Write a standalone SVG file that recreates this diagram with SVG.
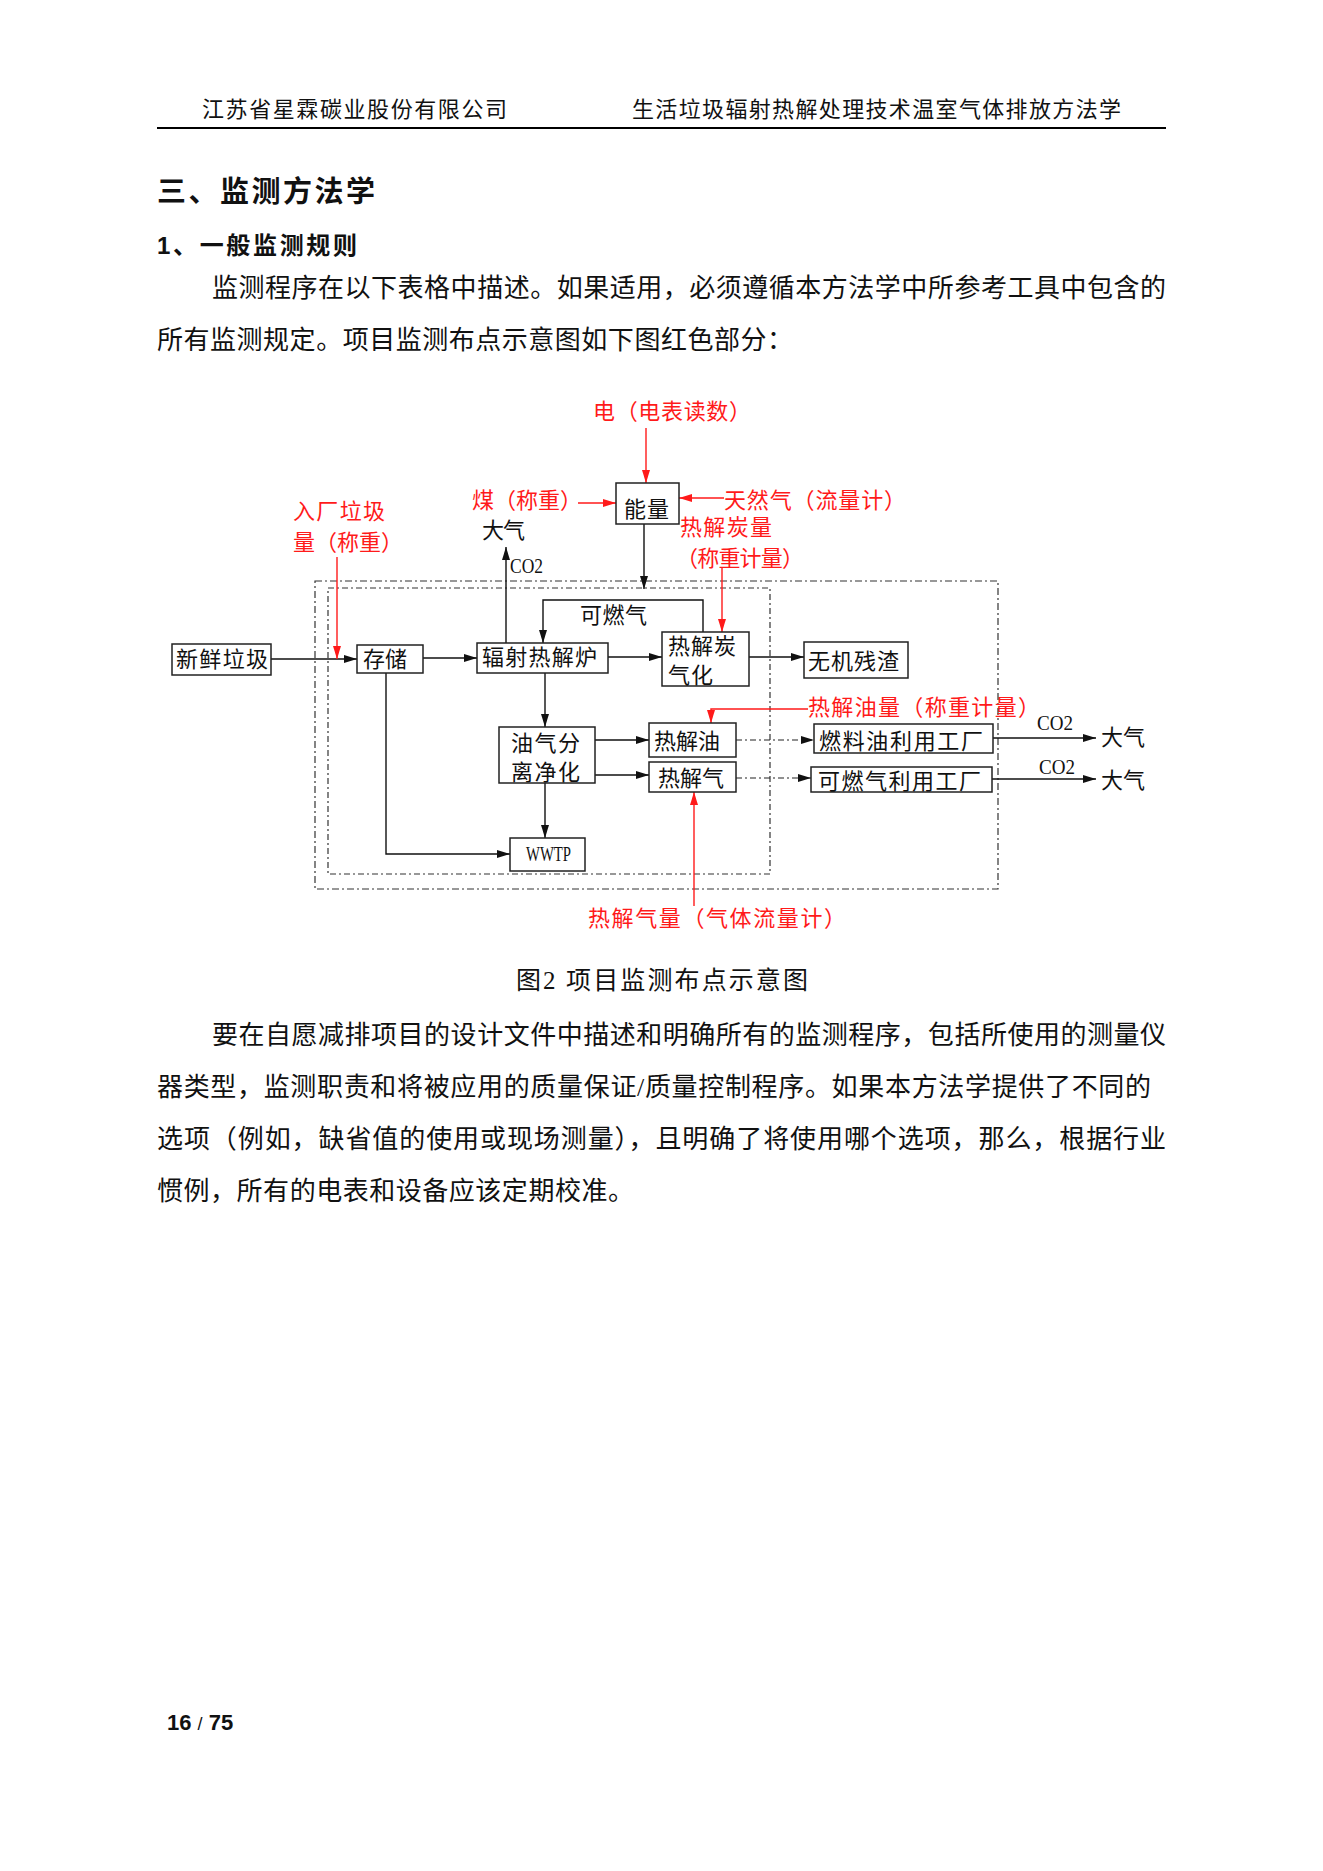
<svg xmlns="http://www.w3.org/2000/svg" width="1323" height="1871" viewBox="0 0 1323 1871">
<style>
text{font-family:"Liberation Serif","Noto Sans CJK SC",serif;fill:#111}
.hd{font-size:22px}
.h1{font-size:29px;font-weight:bold;font-family:"Noto Sans CJK SC",sans-serif}
.h2{font-size:24px;font-weight:bold;font-family:"Liberation Sans","Noto Sans CJK SC",sans-serif}
.p{font-size:26px}
.d{font-size:22px}
.r{fill:#ff1a1a}
.lat{font-size:22px;font-family:"Liberation Serif",serif}
.box{fill:#fff;stroke:#222;stroke-width:1.5}
.ln{fill:none;stroke:#111;stroke-width:1.4}
.rl{fill:none;stroke:#ff1a1a;stroke-width:1.4}
.dd{fill:none;stroke:#222;stroke-width:1.2;stroke-dasharray:6 3 2 3}
.pn{font-family:"Liberation Sans",sans-serif;font-weight:bold;font-size:22px}
</style>
<defs>
<marker id="ab" markerUnits="userSpaceOnUse" markerWidth="13" markerHeight="8" refX="13" refY="4" orient="auto"><path d="M0,0 L13,4 L0,8 z" fill="#111"/></marker>
<marker id="ar" markerUnits="userSpaceOnUse" markerWidth="13" markerHeight="8" refX="13" refY="4" orient="auto"><path d="M0,0 L13,4 L0,8 z" fill="#ff1a1a"/></marker>
</defs>
<rect width="1323" height="1871" fill="#fff"/>

<g id="page-header">
<text class="hd" x="202" y="117" textLength="305">江苏省星霖碳业股份有限公司</text>
<text class="hd" x="632" y="117" textLength="489">生活垃圾辐射热解处理技术温室气体排放方法学</text>
<line x1="157" y1="128" x2="1166" y2="128" stroke="#000" stroke-width="2"/>
</g>

<g id="body-top">
<text class="h1" x="157" y="202" textLength="218">三、监测方法学</text>
<text class="h2" x="157" y="254" textLength="200">1、一般监测规则</text>
<text class="p" x="212" y="297" textLength="954">监测程序在以下表格中描述。如果适用，必须遵循本方法学中所参考工具中包含的</text>
<text class="p" x="157" y="349" textLength="636">所有监测规定。项目监测布点示意图如下图红色部分：</text>
</g>

<g id="boundaries">
<rect x="315" y="581" width="683" height="308" fill="none" stroke="#333" stroke-width="1.2" stroke-dasharray="7 3 2 3"/>
<rect x="328" y="588" width="442" height="286" fill="none" stroke="#333" stroke-width="1.2" stroke-dasharray="6 3 2 3"/>
</g>

<g id="connectors">
<path class="ln" d="M271,659 H357" marker-end="url(#ab)"/>
<path class="ln" d="M423,658 H477" marker-end="url(#ab)"/>
<path class="ln" d="M506,643 V547" marker-end="url(#ab)"/>
<path class="ln" d="M644,524 V589" marker-end="url(#ab)"/>
<path class="ln" d="M703,632 V600 H543 V643" marker-end="url(#ab)"/>
<path class="ln" d="M608,657 H662" marker-end="url(#ab)"/>
<path class="ln" d="M749,657 H804" marker-end="url(#ab)"/>
<path class="ln" d="M545,673 V727" marker-end="url(#ab)"/>
<path class="ln" d="M595,740 H649" marker-end="url(#ab)"/>
<path class="ln" d="M595,775 H649" marker-end="url(#ab)"/>
<path class="ln" d="M545,783 V838" marker-end="url(#ab)"/>
<path class="ln" d="M386,673 V854 H510" marker-end="url(#ab)"/>
<path class="dd" d="M736,740 H814" marker-end="url(#ab)"/>
<path class="dd" d="M736,778 H811" marker-end="url(#ab)"/>
<path class="ln" d="M993,738 H1096" marker-end="url(#ab)"/>
<path class="ln" d="M992,779 H1096" marker-end="url(#ab)"/>
<path class="rl" d="M646,428 V483" marker-end="url(#ar)"/>
<path class="rl" d="M578,503 H616" marker-end="url(#ar)"/>
<path class="rl" d="M724,498 H679" marker-end="url(#ar)"/>
<path class="rl" d="M722,567 V632" marker-end="url(#ar)"/>
<path class="rl" d="M337,557 V659" marker-end="url(#ar)"/>
<path class="rl" d="M808,709 H711 V723" marker-end="url(#ar)"/>
<path class="rl" d="M694,906 V792" marker-end="url(#ar)"/>
</g>

<g id="n-fresh"><rect class="box" x="172" y="644" width="99" height="31"/><text class="d" x="176" y="667" textLength="92">新鲜垃圾</text></g>
<g id="n-storage"><rect class="box" x="357" y="645" width="66" height="28"/><text class="d" x="363" y="667" textLength="44">存储</text></g>
<g id="n-furnace"><rect class="box" x="477" y="643" width="131" height="30"/><text class="d" x="482" y="665" textLength="115">辐射热解炉</text></g>
<g id="n-energy"><rect class="box" x="616" y="483" width="63" height="41"/><text class="d" x="624" y="517" textLength="45">能量</text></g>
<g id="n-gasify"><rect class="box" x="662" y="632" width="87" height="54"/><text class="d" x="668" y="654" textLength="68">热解炭</text><text class="d" x="668" y="683" textLength="45">气化</text></g>
<g id="n-residue"><rect class="box" x="804" y="642" width="104" height="36"/><text class="d" x="808" y="669" textLength="91">无机残渣</text></g>
<g id="n-separate"><rect class="box" x="499" y="727" width="96" height="56"/><text class="d" x="511" y="751" textLength="69">油气分</text><text class="d" x="511" y="780" textLength="69">离净化</text></g>
<g id="n-oil"><rect class="box" x="649" y="723" width="87" height="34"/><text class="d" x="654" y="749" textLength="66">热解油</text></g>
<g id="n-gas"><rect class="box" x="649" y="762" width="87" height="30"/><text class="d" x="658" y="786" textLength="66">热解气</text></g>
<g id="n-fuelplant"><rect class="box" x="814" y="724" width="179" height="29"/><text class="d" x="819" y="749" textLength="164">燃料油利用工厂</text></g>
<g id="n-gasplant"><rect class="box" x="811" y="767" width="181" height="25"/><text class="d" x="818" y="789" textLength="163">可燃气利用工厂</text></g>
<g id="n-wwtp"><rect class="box" x="510" y="838" width="75" height="33"/><text class="lat" x="526" y="861" textLength="45" lengthAdjust="spacingAndGlyphs">WWTP</text></g>

<g id="labels">
<text class="d" x="580" y="623" textLength="67">可燃气</text>
<text class="d" x="482" y="538" textLength="43">大气</text>
<text class="lat" x="510" y="573" textLength="33" lengthAdjust="spacingAndGlyphs">CO2</text>
<text class="lat" x="1037" y="730" textLength="36" lengthAdjust="spacingAndGlyphs">CO2</text>
<text class="lat" x="1039" y="774" textLength="36" lengthAdjust="spacingAndGlyphs">CO2</text>
<text class="d" x="1101" y="745" textLength="44">大气</text>
<text class="d" x="1101" y="788" textLength="44">大气</text>
</g>

<g id="monitoring-points">
<text class="d r" x="593" y="419" textLength="158">电（电表读数）</text>
<text class="d r" x="472" y="508" textLength="110">煤（称重）</text>
<text class="d r" x="724" y="508" textLength="182">天然气（流量计）</text>
<text class="d r" x="680" y="535" textLength="92">热解炭量</text>
<text class="d r" x="676" y="566" textLength="128">（称重计量）</text>
<text class="d r" x="293" y="519" textLength="92">入厂垃圾</text>
<text class="d r" x="293" y="550" textLength="110">量（称重）</text>
<text class="d r" x="808" y="715" textLength="232">热解油量（称重计量）</text>
<text class="d r" x="588" y="926" textLength="258">热解气量（气体流量计）</text>
</g>

<g id="body-bottom">
<text class="p" x="516" y="989" textLength="292" style="font-size:25px">图2 项目监测布点示意图</text>
<text class="p" x="212" y="1044" textLength="954">要在自愿减排项目的设计文件中描述和明确所有的监测程序，包括所使用的测量仪</text>
<text class="p" x="157" y="1096" textLength="994">器类型，监测职责和将被应用的质量保证/质量控制程序。如果本方法学提供了不同的</text>
<text class="p" x="157" y="1148" textLength="1009">选项（例如，缺省值的使用或现场测量），且明确了将使用哪个选项，那么，根据行业</text>
<text class="p" x="157" y="1200" textLength="477">惯例，所有的电表和设备应该定期校准。</text>
</g>

<g id="page-number">
<text class="pn" x="167" y="1730">16 <tspan font-weight="normal" font-size="18">/</tspan> 75</text>
</g>
</svg>
